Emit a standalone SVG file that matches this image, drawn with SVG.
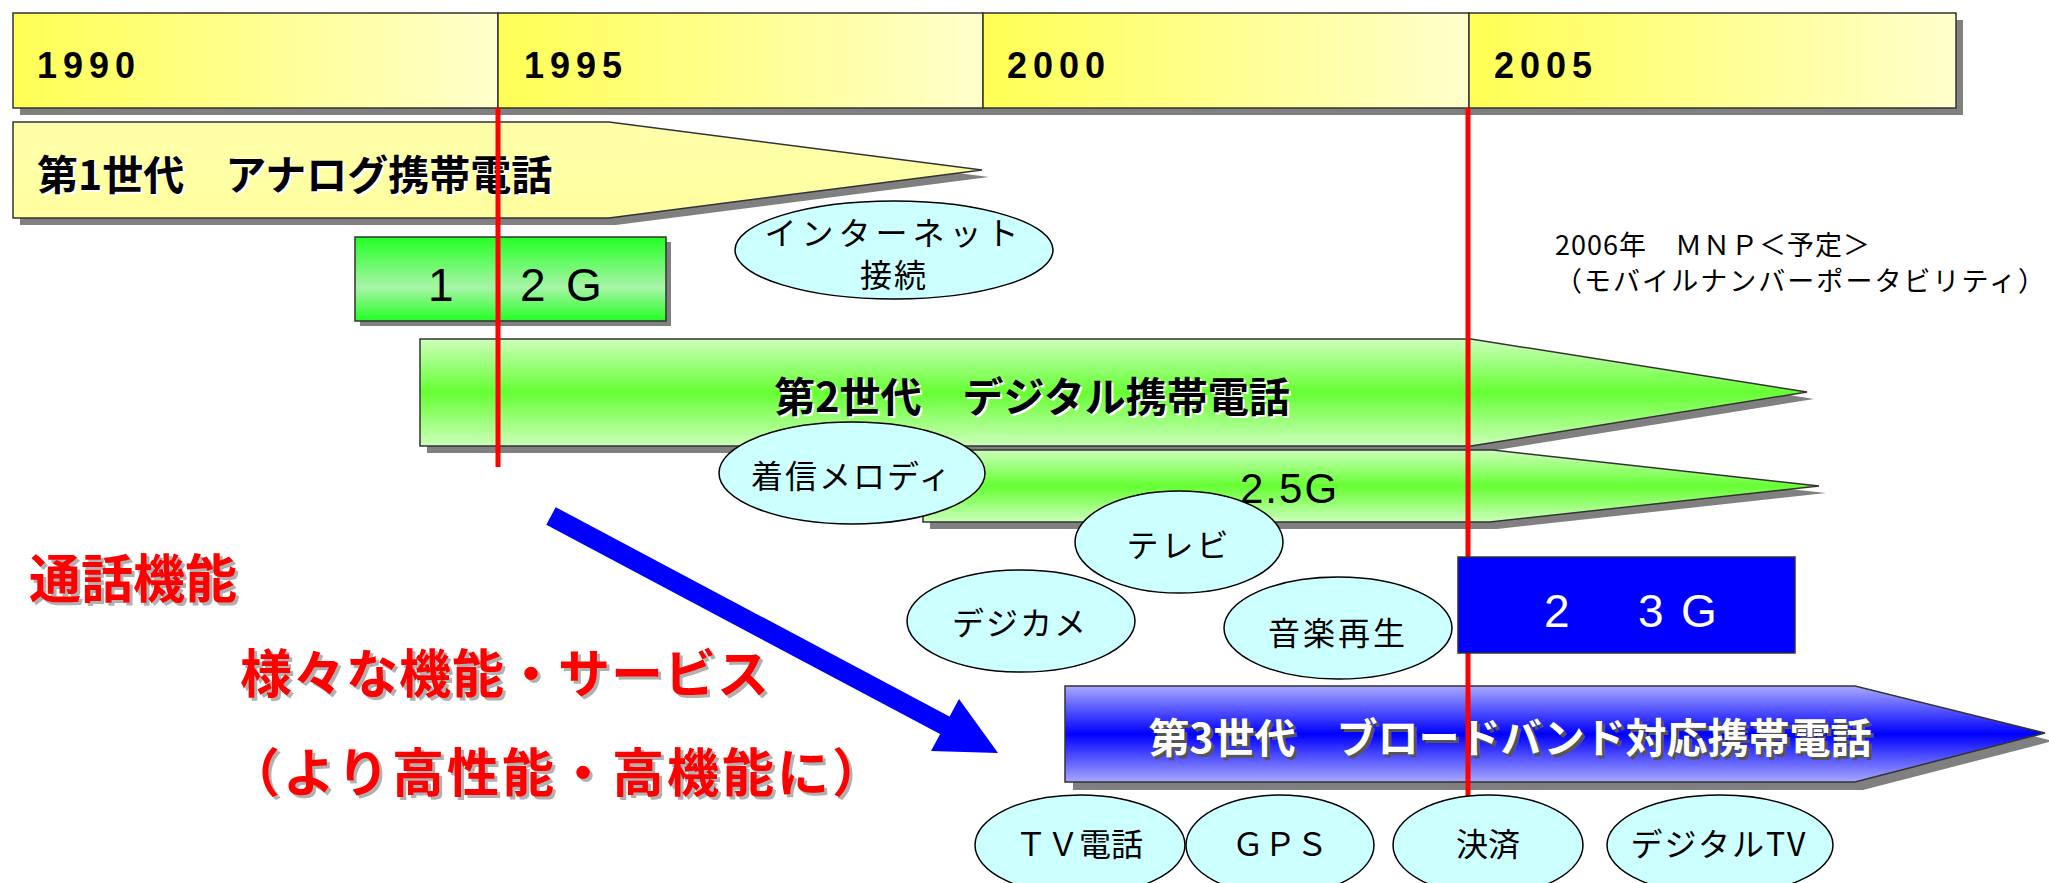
<svg xmlns="http://www.w3.org/2000/svg" width="2049" height="883" viewBox="0 0 2049 883">
<defs>
<linearGradient id="gYear" x1="0" y1="0" x2="1" y2="0">
<stop offset="0" stop-color="#FFFF55"/><stop offset="1" stop-color="#FFFFCC"/>
</linearGradient>
<linearGradient id="gGen1" x1="0" y1="0" x2="0" y2="1">
<stop offset="0" stop-color="#FFFFAA"/><stop offset="1" stop-color="#FFFFA0"/>
</linearGradient>
<linearGradient id="gBox12" x1="0" y1="0" x2="0" y2="1">
<stop offset="0" stop-color="#22FF22"/><stop offset="0.6" stop-color="#A8F5A8"/><stop offset="1" stop-color="#22FF22"/>
</linearGradient>
<linearGradient id="gGen2" x1="0" y1="0" x2="0" y2="1">
<stop offset="0" stop-color="#CCFFBB"/><stop offset="0.5" stop-color="#66FF33"/><stop offset="1" stop-color="#CCFFBB"/>
</linearGradient>
<linearGradient id="gGen3" x1="0" y1="0" x2="0" y2="1">
<stop offset="0" stop-color="#A8A8FF"/><stop offset="0.5" stop-color="#0000FF"/><stop offset="1" stop-color="#A8A8FF"/>
</linearGradient>
<style>
.sh{fill:#808080;}
.out{stroke:#333;stroke-width:1.5;}
.ell{fill:#CCFFFF;stroke:#000;stroke-width:1.5;}
.year{font-family:"Liberation Sans",sans-serif;font-weight:bold;font-size:36px;letter-spacing:6px;fill:#000;}
.jp{font-family:"Noto Sans CJK JP",sans-serif;}
.gen{font-family:"Noto Sans CJK JP",sans-serif;font-weight:bold;font-size:41px;}
.el{font-family:"Noto Sans CJK JP",sans-serif;font-size:32px;fill:#000;text-anchor:middle;}
.num{font-family:"Liberation Sans",sans-serif;font-size:46px;}
.red{font-family:"Noto Sans CJK JP",sans-serif;font-weight:bold;font-size:52px;fill:#FF0000;}
.redsh{font-family:"Noto Sans CJK JP",sans-serif;font-weight:bold;font-size:52px;fill:#B0B0B0;}
.mk{stroke:#FF0000;stroke-width:5;}
</style>
</defs>

<g id="timeline">
<rect class="sh" x="20" y="20" width="1943" height="95"/>
<rect x="13" y="13" width="485" height="95" fill="url(#gYear)" class="out"/>
<rect x="498" y="13" width="485" height="95" fill="url(#gYear)" class="out"/>
<rect x="983" y="13" width="486" height="95" fill="url(#gYear)" class="out"/>
<rect x="1469" y="13" width="487" height="95" fill="url(#gYear)" class="out"/>
<text class="year" x="37" y="78">1990</text>
<text class="year" x="524" y="78">1995</text>
<text class="year" x="1007" y="78">2000</text>
<text class="year" x="1494" y="78">2005</text>
</g>

<g id="internet">
<ellipse class="ell" cx="894" cy="250" rx="159" ry="49"/>
<text class="el" x="894" y="245" font-size="30" letter-spacing="5">インターネット</text>
<text class="el" x="894" y="287" font-size="32" letter-spacing="2">接続</text>
</g>

<g id="gen1">
<polygon class="sh" points="20,129 616,129 989,177 616,225 20,225"/>
<polygon points="13,122 609,122 982,170 609,218 13,218" fill="url(#gGen1)" class="out"/>
<text class="gen" x="39" y="192" fill="#FFFFFF">第1世代　アナログ携帯電話</text>
<text class="gen" x="37" y="190" fill="#000">第1世代　アナログ携帯電話</text>
</g>

<g id="box12">
<rect class="sh" x="360" y="242" width="311" height="84"/>
<rect x="355" y="237" width="311" height="84" fill="url(#gBox12)" class="out"/>
<text class="num" x="428 470 520 566" y="301" fill="#000">1　2G</text>
</g>

<g id="gen2">
<polygon class="sh" points="427,346 1478,346 1814,399 1478,453 427,453"/>
<polygon points="420,339 1471,339 1807,392 1471,446 420,446" fill="url(#gGen2)" class="out"/>
<text class="gen" x="1034" y="414" text-anchor="middle" fill="#FFFFFF">第2世代　デジタル携帯電話</text>
<text class="gen" x="1032" y="412" text-anchor="middle" fill="#000">第2世代　デジタル携帯電話</text>
</g>

<g id="gen25">
<polygon class="sh" points="930,457 1500,457 1826,493 1497,529 930,529"/>
<polygon points="923,450 1493,450 1819,486 1490,522 923,522" fill="url(#gGen2)" class="out"/>
<text x="1240" y="503" font-family="Liberation Sans, sans-serif" font-size="42" letter-spacing="2" fill="#000">2.5G</text>
</g>

<g id="gen3">
<polygon class="sh" points="1073,694 1863,694 2053,741 1863,790 1073,790"/>
<polygon points="1065,686 1855,686 2045,733 1855,782 1065,782" fill="url(#gGen3)" class="out"/>
<text class="gen" x="1513" y="756" text-anchor="middle" fill="#555">第3世代　ブロードバンド対応携帯電話</text>
<text class="gen" x="1510" y="753" text-anchor="middle" fill="#FFFFFF">第3世代　ブロードバンド対応携帯電話</text>
</g>

<g id="markers">
<line class="mk" x1="498" y1="108" x2="498" y2="467"/>
<line class="mk" x1="1468" y1="108" x2="1468" y2="797"/>
</g>

<g id="box23">
<rect x="1458" y="557" width="337" height="96" fill="#0000FF" stroke="#333" stroke-width="1.5"/>
<text class="num" x="1544 1596 1638 1681" y="627" fill="#FFFFFF">2　3G</text>
</g>

<g id="melody">
<ellipse class="ell" cx="852" cy="473" rx="133" ry="51"/>
<text class="el" x="852" y="488" letter-spacing="2">着信メロディ</text>
</g>

<g id="tv">
<ellipse class="ell" cx="1179" cy="542" rx="104" ry="51"/>
<text class="el" x="1179" y="557" letter-spacing="3">テレビ</text>
</g>

<g id="camera">
<ellipse class="ell" cx="1021" cy="621" rx="114" ry="51"/>
<text class="el" x="1020" y="635" letter-spacing="2">デジカメ</text>
</g>

<g id="music">
<ellipse class="ell" cx="1338" cy="628" rx="114" ry="51"/>
<text class="el" x="1338" y="645" letter-spacing="3">音楽再生</text>
</g>

<g id="tvphone">
<ellipse class="ell" cx="1080" cy="845" rx="105" ry="50"/>
<text class="el" x="1079" y="856">ＴＶ電話</text>
</g>

<g id="gps">
<ellipse class="ell" cx="1280" cy="845" rx="94" ry="50"/>
<text class="el" x="1280" y="856">ＧＰＳ</text>
</g>

<g id="payment">
<ellipse class="ell" cx="1488" cy="845" rx="95" ry="50"/>
<text class="el" x="1488" y="856">決済</text>
</g>

<g id="digitaltv">
<ellipse class="ell" cx="1720" cy="845" rx="113" ry="50"/>
<text class="el" x="1719" y="856" letter-spacing="2">デジタルTV</text>
</g>

<g id="mnp">
<text class="jp" x="1555" y="255" font-size="27" textLength="315" fill="#000">2006年　ＭＮＰ＜予定＞</text>
<text class="jp" x="1555" y="291" font-size="27" textLength="490" fill="#000">（モバイルナンバーポータビリティ）</text>
</g>

<g id="labels">
<text class="redsh" x="32" y="601">通話機能</text>
<text class="red" x="29" y="598">通話機能</text>
<text class="redsh" x="243" y="696" letter-spacing="1">様々な機能・サービス</text>
<text class="red" x="240" y="693" letter-spacing="1">様々な機能・サービス</text>
<text class="redsh" x="231" y="795" letter-spacing="3">（より高性能・高機能に）</text>
<text class="red" x="228" y="792" letter-spacing="3">（より高性能・高機能に）</text>
</g>

<g id="connectors">
<line x1="551" y1="516" x2="948" y2="727" stroke="#0000FF" stroke-width="20"/>
<polygon points="998,753 959,699 931,751" fill="#0000FF"/>
</g>
</svg>
